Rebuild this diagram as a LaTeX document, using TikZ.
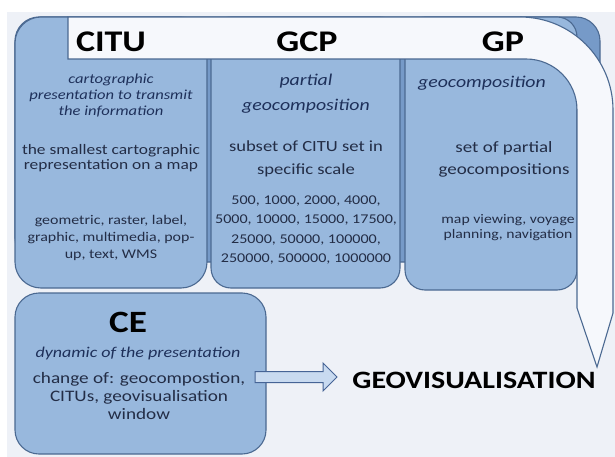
\documentclass[tikz,border=0pt]{standalone}
\usepackage{fontspec}
\setmainfont{Carlito}[FakeStretch=1.2]
\definecolor{pagebg}{RGB}{238,241,247}
\definecolor{boxfill}{RGB}{152,184,221}
\definecolor{boxline}{RGB}{75,105,145}
\definecolor{backblue}{RGB}{118,154,200}
\definecolor{bandwhite}{RGB}{246,248,252}
\definecolor{textnavy}{RGB}{30,48,90}
\definecolor{textdark}{RGB}{35,45,70}
\definecolor{arrowfill}{RGB}{200,218,240}
\definecolor{arrowline}{RGB}{70,100,150}
\begin{document}
\begin{tikzpicture}[x=1pt,y=-1pt,
  box/.style={draw=boxline,line width=1.1pt,fill=boxfill,rounded corners=20pt,inner sep=0pt},
  title/.style={text=black,font=\fontsize{30}{32}\selectfont\bfseries},
  ital/.style={text=textnavy,align=center},
  body/.style={text=textdark,align=center}]
% Rahmen
\useasboundingbox (0,0) rectangle (615,457);
\fill[white] (0,0) rectangle (615,457);
\fill[pagebg] (7,12) rectangle (615,457);

% Koordinaten
\coordinate (arrowtail) at (255,377);
\coordinate (arrowtip) at (337,377);

% Hintergrund und Kaesten
\draw[box,fill=backblue,rounded corners=24pt] (15,17) rectangle (600,262);
\node[box,rounded corners=26pt,minimum width=192pt,minimum height=271pt] (citubox) at (111,152.5) {};
\node[box,minimum width=189pt,minimum height=271pt] (gcpbox) at (305.5,152.5) {};
\node[box,minimum width=172pt,minimum height=273pt] (gpbox) at (491,153.5) {};
\node[box,rounded corners=24pt,minimum width=251pt,minimum height=161pt] (cebox) at (140.5,373.5) {};

% Bogenpfeil
\draw[line width=1.1pt,draw=boxline,fill=bandwhite] (68,17) -- (520,17) arc[start angle=-90,end angle=0,radius=93] -- (613,313) -- (597,367) -- (577,308) -- (577,110) arc[start angle=0,end angle=-90,radius=51] -- (68,59) -- cycle;

% Blockpfeil
\draw[line width=1pt,draw=arrowline,fill=arrowfill] (arrowtail) -- ++(0,-5.5) -- ++(68,0) -- ++(0,-8.5) -- (arrowtip) -- ++(-14,14) -- ++(0,-8.5) -- ++(-68,0) -- cycle;

% Texte
\node[title] (citutitle) at (111,42) {CITU};
\node[title] (gcptitle) at (307,42) {GCP};
\node[title] (gptitle) at (503,42) {GP};
\node[ital,font=\fontsize{13.8}{16}\selectfont\itshape] (citunote) at (111,96) {cartographic\\presentation to transmit\\the information};
\node[body,font=\fontsize{14.5}{15.5}\selectfont] (citudef) at (111,158) {the smallest cartographic\\representation on a map};
\node[body,font=\fontsize{13.3}{17}\selectfont] (citutypes) at (111,238) {geometric, raster, label,\\graphic, multimedia, pop-\\up, text, WMS};
\node[ital,font=\fontsize{16.5}{25}\selectfont\itshape] (gcpnote) at (306,94) {partial\\geocomposition};
\node[body,font=\fontsize{15.5}{23}\selectfont] (gcpdef) at (306,159) {subset of CITU set in\\specific scale};
\node[body,font=\fontsize{13.4}{19.5}\selectfont] (gcpscales) at (306,230) {500, 1000, 2000, 4000,\\5000, 10000, 15000, 17500,\\25000, 50000, 100000,\\250000, 500000, 1000000};
\node[ital,font=\fontsize{16.5}{20}\selectfont\itshape] (gpnote) at (482,83) {geocomposition};
\node[body,font=\fontsize{15.8}{22}\selectfont] (gpdef) at (504,159) {set of partial\\geocompositions};
\node[body,font=\fontsize{13.1}{15}\selectfont] (gpuse) at (508,228) {map viewing, voyage\\planning, navigation};
\node[title,font=\fontsize{31}{33}\selectfont\bfseries] (cetitle) at (128,322) {CE};
\node[ital,font=\fontsize{15}{17}\selectfont\itshape] (cenote) at (138,353) {dynamic of the presentation};
\node[body,font=\fontsize{16}{18}\selectfont] (cechange) at (139,396) {change of: geocompostion,\\CITUs, geovisualisation\\window};
\node[title,font=\fontsize{25}{27}\selectfont\bfseries] (geovis) at (474,380) {GEOVISUALISATION};
\end{tikzpicture}
\end{document}
